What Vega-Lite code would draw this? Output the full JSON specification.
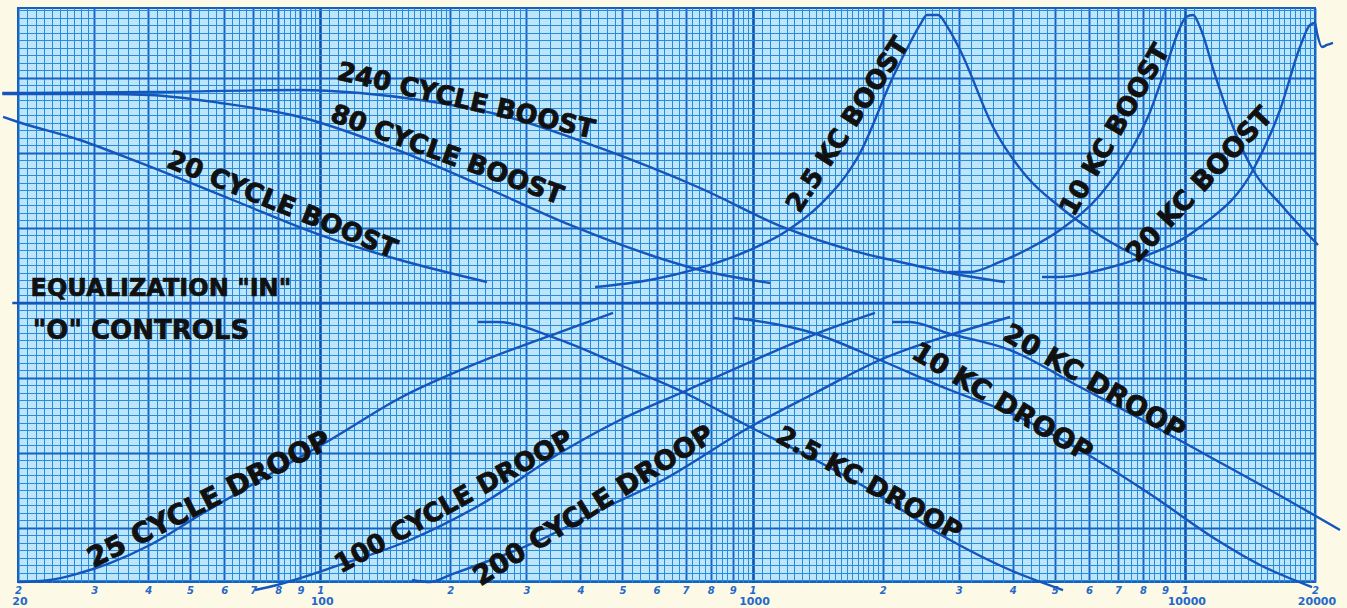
{
  "$schema": "https://vega.github.io/schema/vega-lite/v6.json",
  "width": 1297,
  "height": 574,
  "autosize": {"type": "none"},
  "padding": {"left": 18, "top": 8, "right": 32, "bottom": 26},
  "background": "#fcfae6",
  "config": {"view": {"fill": "#bde6fa", "stroke": "#1560c0", "strokeWidth": 2}},
  "layer": [
    {
      "data": {"values": [
        {"c":"240","f":18.4,"db":28.0},{"c":"240","f":20,"db":28.0},{"c":"240","f":40.4,"db":28.13},{"c":"240","f":89.8,"db":28.4},{"c":"240","f":123.6,"db":28.0},{"c":"240","f":170.2,"db":27.07},{"c":"240","f":260.5,"db":25.07},{"c":"240","f":443.8,"db":20.67},{"c":"240","f":756,"db":15.33},{"c":"240","f":1189,"db":10.0},{"c":"240","f":1680,"db":7.07},{"c":"240","f":2194,"db":5.47},{"c":"240","f":2863,"db":4.0},{"c":"240","f":3838,"db":2.8},
        {"c":"80","f":18.4,"db":27.87},{"c":"80","f":20,"db":27.87},{"c":"80","f":30.95,"db":27.87},{"c":"80","f":40.4,"db":27.73},{"c":"80","f":58.7,"db":26.67},{"c":"80","f":89.8,"db":24.8},{"c":"80","f":150.6,"db":20.4},{"c":"80","f":234.2,"db":15.73},{"c":"80","f":378.3,"db":10.4},{"c":"80","f":579.2,"db":6.4},{"c":"80","f":756,"db":4.4},{"c":"80","f":1098,"db":2.67},
        {"c":"20","f":18.47,"db":24.8},{"c":"20","f":20,"db":24.13},{"c":"20","f":27.8,"db":21.73},{"c":"20","f":37.9,"db":18.8},{"c":"20","f":62.8,"db":13.73},{"c":"20","f":99.9,"db":9.07},{"c":"20","f":153,"db":5.73},{"c":"20","f":243.1,"db":2.8},
        {"c":"eq","f":19.4,"db":0},{"c":"eq","f":20100,"db":0},
        {"c":"2.5kb","f":432.2,"db":2.13},{"c":"2.5kb","f":579.2,"db":3.07},{"c":"2.5kb","f":756,"db":4.67},{"c":"2.5kb","f":986.7,"db":7.07},{"c":"2.5kb","f":1189,"db":9.47},{"c":"2.5kb","f":1432,"db":13.07},{"c":"2.5kb","f":1773,"db":20.0},{"c":"2.5kb","f":2113,"db":30.13},{"c":"2.5kb","f":2313,"db":34.67},{"c":"2.5kb","f":2440,"db":37.07},{"c":"2.5kb","f":2533,"db":38.4},{"c":"2.5kb","f":2686,"db":38.4},{"c":"2.5kb","f":2833,"db":36.67},{"c":"2.5kb","f":3020,"db":33.73},{"c":"2.5kb","f":3600,"db":23.47},{"c":"2.5kb","f":4314,"db":16.8},{"c":"2.5kb","f":5143,"db":12.8},{"c":"2.5kb","f":6606,"db":8.4},{"c":"2.5kb","f":8305,"db":5.47},{"c":"2.5kb","f":11252,"db":3.07},
        {"c":"10kb","f":2833,"db":4.13},{"c":"10kb","f":3185,"db":4.13},{"c":"10kb","f":3736,"db":5.47},{"c":"10kb","f":4384,"db":7.33},{"c":"10kb","f":5143,"db":9.73},{"c":"10kb","f":6365,"db":14.4},{"c":"10kb","f":7467,"db":20.13},{"c":"10kb","f":8305,"db":25.47},{"c":"10kb","f":8998,"db":31.07},{"c":"10kb","f":9591,"db":35.73},{"c":"10kb","f":10062,"db":38.13},{"c":"10kb","f":10444,"db":38.4},{"c":"10kb","f":10840,"db":36.8},{"c":"10kb","f":11742,"db":30.4},{"c":"10kb","f":12923,"db":23.47},{"c":"10kb","f":14378,"db":17.73},{"c":"10kb","f":16866,"db":12.8},{"c":"10kb","f":20322,"db":7.73},
        {"c":"20kb","f":4673,"db":3.47},{"c":"20kb","f":5143,"db":3.47},{"c":"20kb","f":6365,"db":4.4},{"c":"20kb","f":7876,"db":6.0},{"c":"20kb","f":10840,"db":10.13},{"c":"20kb","f":14378,"db":17.73},{"c":"20kb","f":16598,"db":25.73},{"c":"20kb","f":18464,"db":34.13},{"c":"20kb","f":19472,"db":37.07},{"c":"20kb","f":20000,"db":37.33},{"c":"20kb","f":20215,"db":36.0},{"c":"20kb","f":20759,"db":34.13},{"c":"20kb","f":21320,"db":34.4},{"c":"20kb","f":22014,"db":34.67},
        {"c":"25d","f":20,"db":-37.2},{"c":"25d","f":23.72,"db":-36.93},{"c":"25d","f":27.8,"db":-36.0},{"c":"25d","f":32.65,"db":-34.67},{"c":"25d","f":40.4,"db":-32.27},{"c":"25d","f":52.7,"db":-28.27},{"c":"25d","f":72.6,"db":-23.6},{"c":"25d","f":105.4,"db":-18.27},{"c":"25d","f":153,"db":-12.67},{"c":"25d","f":234.2,"db":-7.87},{"c":"25d","f":358.6,"db":-3.87},{"c":"25d","f":475.8,"db":-1.33},
        {"c":"100d","f":70.7,"db":-38.27},{"c":"100d","f":79.5,"db":-37.6},{"c":"100d","f":111.1,"db":-34.93},{"c":"100d","f":161.3,"db":-31.6},{"c":"100d","f":234.2,"db":-26.93},{"c":"100d","f":358.6,"db":-20.0},{"c":"100d","f":493.8,"db":-15.6},{"c":"100d","f":690.6,"db":-11.87},{"c":"100d","f":986.7,"db":-7.87},{"c":"100d","f":1380,"db":-4.27},{"c":"100d","f":1920,"db":-1.33},
        {"c":"200d","f":163.1,"db":-36.93},{"c":"200d","f":179.5,"db":-37.2},{"c":"200d","f":199.6,"db":-36.27},{"c":"200d","f":322.5,"db":-31.6},{"c":"200d","f":443.8,"db":-27.6},{"c":"200d","f":620.8,"db":-23.6},{"c":"200d","f":986.7,"db":-16.53},{"c":"200d","f":1395,"db":-12.0},{"c":"200d","f":1972,"db":-7.6},{"c":"200d","f":2863,"db":-4.27},{"c":"200d","f":3942,"db":-1.87},
        {"c":"2.5d","f":231.7,"db":-2.53},{"c":"2.5d","f":256.4,"db":-2.53},{"c":"2.5d","f":358.6,"db":-4.93},{"c":"2.5d","f":493.8,"db":-8.27},{"c":"2.5d","f":690.6,"db":-11.87},{"c":"2.5d","f":986.7,"db":-16.53},{"c":"2.5d","f":1288,"db":-19.87},{"c":"2.5d","f":1870,"db":-24.93},{"c":"2.5d","f":2863,"db":-31.6},{"c":"2.5d","f":3942,"db":-35.6},{"c":"2.5d","f":5226,"db":-38.27},
        {"c":"10d","f":901.3,"db":-2.0},{"c":"10d","f":986.7,"db":-2.27},{"c":"10d","f":1380,"db":-4.0},{"c":"10d","f":1972,"db":-7.6},{"c":"10d","f":2863,"db":-11.6},{"c":"10d","f":3942,"db":-14.67},{"c":"10d","f":5721,"db":-19.6},{"c":"10d","f":8305,"db":-25.47},{"c":"10d","f":11867,"db":-31.6},{"c":"10d","f":14924,"db":-34.93},{"c":"10d","f":19680,"db":-37.87},
        {"c":"20d","f":2102,"db":-2.53},{"c":"20d","f":2313,"db":-2.53},{"c":"20d","f":2818,"db":-4.0},{"c":"20d","f":3942,"db":-6.27},{"c":"20d","f":5721,"db":-11.2},{"c":"20d","f":8305,"db":-16.13},{"c":"20d","f":11433,"db":-20.53},{"c":"20d","f":15737,"db":-24.93},{"c":"20d","f":22849,"db":-30.27}
      ]},
      "mark": {"type": "line", "color": "#1556bd", "strokeWidth": 2.4, "interpolate": "monotone", "clip": false},
      "encoding": {
        "x": {"field": "f", "type": "quantitative",
          "scale": {"type": "log", "domain": [20, 20000], "nice": false},
          "axis": {
            "title": null, "orient": "bottom", "ticks": false, "domain": false, "grid": true, "tickCount": 1000,
            "values": [20,21,22,23,24,25,26,27,28,29,30,32,34,36,38,40,42,44,46,48,50,52.5,55,57.5,60,62.5,65,67.5,70,72.5,75,77.5,80,82.5,85,87.5,90,92.5,95,97.5,
              100,105,110,115,120,125,130,135,140,145,150,155,160,165,170,175,180,185,190,195,200,210,220,230,240,250,260,270,280,290,300,320,340,360,380,400,420,440,460,480,500,525,550,575,600,625,650,675,700,725,750,775,800,825,850,875,900,925,950,975,
              1000,1050,1100,1150,1200,1250,1300,1350,1400,1450,1500,1550,1600,1650,1700,1750,1800,1850,1900,1950,2000,2100,2200,2300,2400,2500,2600,2700,2800,2900,3000,3200,3400,3600,3800,4000,4200,4400,4600,4800,5000,5250,5500,5750,6000,6250,6500,6750,7000,7250,7500,7750,8000,8250,8500,8750,9000,9250,9500,9750,
              10000,10500,11000,11500,12000,12500,13000,13500,14000,14500,15000,15500,16000,16500,17000,17500,18000,18500,19000,19500,20000],
            "labelExpr": "abs(datum.value/pow(10,floor(log(datum.value)/LN10+1e-9)) - round(datum.value/pow(10,floor(log(datum.value)/LN10+1e-9)))) < 1e-6 ? substring(toString(datum.value),0,1) : ''",
            "labelOverlap": false, "labelFlush": false, "labelPadding": 3,
            "labelFont": "DejaVu Sans", "labelFontStyle": "italic", "labelFontWeight": "bold", "labelFontSize": 10, "labelColor": "#2468c8",
            "gridColor": {"condition": [
              {"test": "abs(log(datum.value)/LN10 - round(log(datum.value)/LN10)) < 1e-6", "value": "#0c52ad"},
              {"test": "abs(datum.value/pow(10,floor(log(datum.value)/LN10+1e-9)) - round(datum.value/pow(10,floor(log(datum.value)/LN10+1e-9)))) < 1e-6", "value": "#1462c2"}
            ], "value": "#2a8ade"},
            "gridWidth": {"condition": [
              {"test": "abs(log(datum.value)/LN10 - round(log(datum.value)/LN10)) < 1e-6", "value": 2.6},
              {"test": "abs(datum.value/pow(10,floor(log(datum.value)/LN10+1e-9)) - round(datum.value/pow(10,floor(log(datum.value)/LN10+1e-9)))) < 1e-6", "value": 1.9}
            ], "value": 1.0}
          }
        },
        "y": {"field": "db", "type": "quantitative",
          "scale": {"domain": [-37.2, 39.33], "nice": false, "zero": false},
          "axis": {
            "title": null, "labels": false, "ticks": false, "domain": false, "grid": true, "tickCount": 1000,
            "values": [-37,-36,-35,-34,-33,-32,-31,-30,-29,-28,-27,-26,-25,-24,-23,-22,-21,-20,-19,-18,-17,-16,-15,-14,-13,-12,-11,-10,-9,-8,-7,-6,-5,-4,-3,-2,-1,0,1,2,3,4,5,6,7,8,9,10,11,12,13,14,15,16,17,18,19,20,21,22,23,24,25,26,27,28,29,30,31,32,33,34,35,36,37,38,39],
            "gridColor": {"condition": {"test": "datum.value % 10 === 0", "value": "#1462c2"}, "value": "#2a8ade"},
            "gridWidth": {"condition": {"test": "datum.value % 10 === 0", "value": 2.0}, "value": 1.2}
          }
        },
        "detail": {"field": "c", "type": "nominal"}
      }
    },
    {
      "data": {"values": [{"f":20,"db":-37.2,"t":"20"},{"f":100,"db":-37.2,"t":"100"},{"f":1000,"db":-37.2,"t":"1000"},{"f":10000,"db":-37.2,"t":"10000"},{"f":20000,"db":-37.2,"t":"20000"}]},
      "mark": {"type": "text", "dy": 20, "dx": 2, "font": "DejaVu Sans", "fontWeight": "bold", "fontSize": 11, "color": "#2468c8", "baseline": "middle", "align": "center"},
      "encoding": {"x": {"field": "f", "type": "quantitative"}, "y": {"field": "db", "type": "quantitative"}, "text": {"field": "t"}}
    },
    {
      "data": {"values": [{"f":42.8,"db":1.87,"t":"EQUALIZATION \"IN\""}]},
      "mark": {"type": "text", "font": "DejaVu Sans", "fontWeight": "bold", "fontSize": 24, "color": "#111111", "stroke": "#111111", "strokeWidth": 0.7, "baseline": "middle", "align": "center"},
      "encoding": {"x": {"field": "f", "type": "quantitative"}, "y": {"field": "db", "type": "quantitative"}, "text": {"field": "t"}}
    },
    {
      "data": {"values": [{"f":38.5,"db":-3.73,"t":"\"O\" CONTROLS"}]},
      "mark": {"type": "text", "font": "DejaVu Sans", "fontWeight": "bold", "fontSize": 26, "color": "#111111", "stroke": "#111111", "strokeWidth": 0.7, "baseline": "middle", "align": "center"},
      "encoding": {"x": {"field": "f", "type": "quantitative"}, "y": {"field": "db", "type": "quantitative"}, "text": {"field": "t"}}
    },
    {
      "data": {"values": [{"f":217.4,"db":26.93,"t":"240 CYCLE BOOST"}]},
      "mark": {"type": "text", "angle": 13, "font": "DejaVu Sans", "fontWeight": "bold", "fontSize": 26, "color": "#111111", "stroke": "#111111", "strokeWidth": 0.8, "baseline": "middle", "align": "center"},
      "encoding": {"x": {"field": "f", "type": "quantitative"}, "y": {"field": "db", "type": "quantitative"}, "text": {"field": "t"}}
    },
    {
      "data": {"values": [{"f":196.5,"db":19.73,"t":"80  CYCLE BOOST"}]},
      "mark": {"type": "text", "angle": 20, "font": "DejaVu Sans", "fontWeight": "bold", "fontSize": 26, "color": "#111111", "stroke": "#111111", "strokeWidth": 0.8, "baseline": "middle", "align": "center"},
      "encoding": {"x": {"field": "f", "type": "quantitative"}, "y": {"field": "db", "type": "quantitative"}, "text": {"field": "t"}}
    },
    {
      "data": {"values": [{"f":81.6,"db":13.07,"t":"20 CYCLE BOOST"}]},
      "mark": {"type": "text", "angle": 22, "font": "DejaVu Sans", "fontWeight": "bold", "fontSize": 26, "color": "#111111", "stroke": "#111111", "strokeWidth": 0.8, "baseline": "middle", "align": "center"},
      "encoding": {"x": {"field": "f", "type": "quantitative"}, "y": {"field": "db", "type": "quantitative"}, "text": {"field": "t"}}
    },
    {
      "data": {"values": [{"f":1663,"db":23.73,"t":"2.5 KC BOOST"}]},
      "mark": {"type": "text", "angle": -57, "font": "DejaVu Sans", "fontWeight": "bold", "fontSize": 26, "color": "#111111", "stroke": "#111111", "strokeWidth": 0.8, "baseline": "middle", "align": "center"},
      "encoding": {"x": {"field": "f", "type": "quantitative"}, "y": {"field": "db", "type": "quantitative"}, "text": {"field": "t"}}
    },
    {
      "data": {"values": [{"f":6892,"db":23.07,"t":"10 KC BOOST"}]},
      "mark": {"type": "text", "angle": -60, "font": "DejaVu Sans", "fontWeight": "bold", "fontSize": 26, "color": "#111111", "stroke": "#111111", "strokeWidth": 0.8, "baseline": "middle", "align": "center"},
      "encoding": {"x": {"field": "f", "type": "quantitative"}, "y": {"field": "db", "type": "quantitative"}, "text": {"field": "t"}}
    },
    {
      "data": {"values": [{"f":10840,"db":15.73,"t":"20 KC BOOST"}]},
      "mark": {"type": "text", "angle": -47, "font": "DejaVu Sans", "fontWeight": "bold", "fontSize": 27, "color": "#111111", "stroke": "#111111", "strokeWidth": 0.8, "baseline": "middle", "align": "center"},
      "encoding": {"x": {"field": "f", "type": "quantitative"}, "y": {"field": "db", "type": "quantitative"}, "text": {"field": "t"}}
    },
    {
      "data": {"values": [{"f":55.5,"db":-26.3,"t":"25 CYCLE DROOP"}]},
      "mark": {"type": "text", "angle": -27, "font": "DejaVu Sans", "fontWeight": "bold", "fontSize": 28, "color": "#111111", "stroke": "#111111", "strokeWidth": 0.8, "baseline": "middle", "align": "center"},
      "encoding": {"x": {"field": "f", "type": "quantitative"}, "y": {"field": "db", "type": "quantitative"}, "text": {"field": "t"}}
    },
    {
      "data": {"values": [{"f":203.9,"db":-26.53,"t":"100 CYCLE DROOP"}]},
      "mark": {"type": "text", "angle": -29, "font": "DejaVu Sans", "fontWeight": "bold", "fontSize": 26, "color": "#111111", "stroke": "#111111", "strokeWidth": 0.8, "baseline": "middle", "align": "center"},
      "encoding": {"x": {"field": "f", "type": "quantitative"}, "y": {"field": "db", "type": "quantitative"}, "text": {"field": "t"}}
    },
    {
      "data": {"values": [{"f":429.9,"db":-27.07,"t":"200 CYCLE DROOP"}]},
      "mark": {"type": "text", "angle": -32, "font": "DejaVu Sans", "fontWeight": "bold", "fontSize": 27, "color": "#111111", "stroke": "#111111", "strokeWidth": 0.8, "baseline": "middle", "align": "center"},
      "encoding": {"x": {"field": "f", "type": "quantitative"}, "y": {"field": "db", "type": "quantitative"}, "text": {"field": "t"}}
    },
    {
      "data": {"values": [{"f":1860,"db":-24.13,"t":"2.5 KC DROOP"}]},
      "mark": {"type": "text", "angle": 29, "font": "DejaVu Sans", "fontWeight": "bold", "fontSize": 26, "color": "#111111", "stroke": "#111111", "strokeWidth": 0.8, "baseline": "middle", "align": "center"},
      "encoding": {"x": {"field": "f", "type": "quantitative"}, "y": {"field": "db", "type": "quantitative"}, "text": {"field": "t"}}
    },
    {
      "data": {"values": [{"f":3776,"db":-13.33,"t":"10 KC DROOP"}]},
      "mark": {"type": "text", "angle": 31, "font": "DejaVu Sans", "fontWeight": "bold", "fontSize": 27, "color": "#111111", "stroke": "#111111", "strokeWidth": 0.8, "baseline": "middle", "align": "center"},
      "encoding": {"x": {"field": "f", "type": "quantitative"}, "y": {"field": "db", "type": "quantitative"}, "text": {"field": "t"}}
    },
    {
      "data": {"values": [{"f":6165,"db":-10.67,"t":"20 KC DROOP"}]},
      "mark": {"type": "text", "angle": 30, "font": "DejaVu Sans", "fontWeight": "bold", "fontSize": 27, "color": "#111111", "stroke": "#111111", "strokeWidth": 0.8, "baseline": "middle", "align": "center"},
      "encoding": {"x": {"field": "f", "type": "quantitative"}, "y": {"field": "db", "type": "quantitative"}, "text": {"field": "t"}}
    }
  ]
}
